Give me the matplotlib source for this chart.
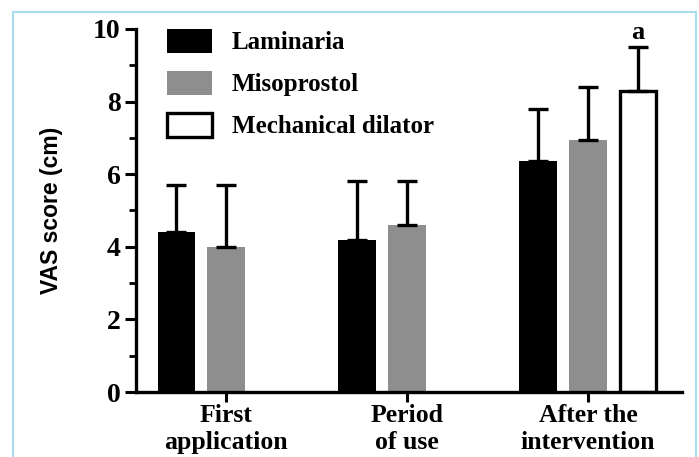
import numpy as np
import matplotlib
matplotlib.use("Agg")
from matplotlib import pyplot as plt  # noqa
from matplotlib.patches import Patch, Rectangle  # noqa

groups = ['First\napplication', 'Period\nof use', 'After the\nintervention']
laminaria = [4.4, 4.2, 6.35]
laminaria_err = [1.3, 1.6, 1.45]
misoprostol = [4.0, 4.6, 6.95]
misoprostol_err = [1.7, 1.2, 1.45]
dilator = [np.nan, np.nan, 8.3]
dilator_err = [0, 0, 1.2]
series_names = ['Laminaria', 'Misoprostol', 'Mechanical dilator']

serif = ['Liberation Serif', 'DejaVu Serif']
plt.rcParams['font.family'] = serif
plt.rcParams['font.weight'] = 'bold'

fig = plt.figure(figsize=(6.99, 4.57), dpi=100)
fig.patches.append(Rectangle((13 / 699, -0.1), 683 / 699, 1.1 - 12 / 457, transform=fig.transFigure,
                             fill=False, edgecolor='#a9dcec', linewidth=1.5))
ax = fig.add_axes([136 / 699, 1 - 392 / 457, 546 / 699, 363 / 457])

x = np.arange(len(groups))
off = 0.276
w = 0.21
err_kw = dict(ecolor='black', elinewidth=2.4, capsize=7, capthick=2.4)
ax.bar(x - off, laminaria, w, color='black', yerr=[np.zeros(3), laminaria_err], error_kw=err_kw, zorder=2)
ax.bar(x, misoprostol, w, color='#8e8e8e', yerr=[np.zeros(3), misoprostol_err], error_kw=err_kw, zorder=2)
ax.bar(x + off, dilator, w * 0.93, color='white', edgecolor='black', linewidth=2.4,
       yerr=[np.zeros(3), dilator_err], error_kw=err_kw, zorder=2)
ax.text(x[2] + off, dilator[2] + dilator_err[2] + 0.1, 'a', ha='center', va='bottom', fontsize=19,
        fontweight='bold')

ax.set_xlim(-0.5, 2.52)
ax.set_ylim(0, 10)
ax.set_yticks([0, 2, 4, 6, 8, 10])
ax.set_yticks([1, 3, 5, 7, 9], minor=True)
ax.set_xticks(x)
ax.set_xticklabels(groups, fontsize=18.5, linespacing=1.2)
ax.tick_params(axis='y', labelsize=20, width=2.2, length=8, pad=3)
ax.tick_params(axis='y', which='minor', width=2, length=5)
ax.tick_params(axis='x', width=2.2, length=7, pad=2)
for s in ['top', 'right']:
    ax.spines[s].set_visible(False)
for s in ['left', 'bottom']:
    ax.spines[s].set_linewidth(2.4)
ax.set_ylabel('VAS score (cm)', fontsize=16.5, fontweight='bold', family=['Liberation Sans', 'DejaVu Sans'],
              labelpad=22)

handles = [Patch(facecolor='black'), Patch(facecolor='#8e8e8e'),
           Patch(facecolor='white', edgecolor='black', linewidth=2.4)]
ax.legend(handles, series_names, loc='upper left', bbox_to_anchor=(0.015, 1.062), frameon=False,
          fontsize=18, handlelength=1.8, handleheight=1.1, labelspacing=0.66, handletextpad=0.8)

plt.savefig('out.png', dpi=100)
